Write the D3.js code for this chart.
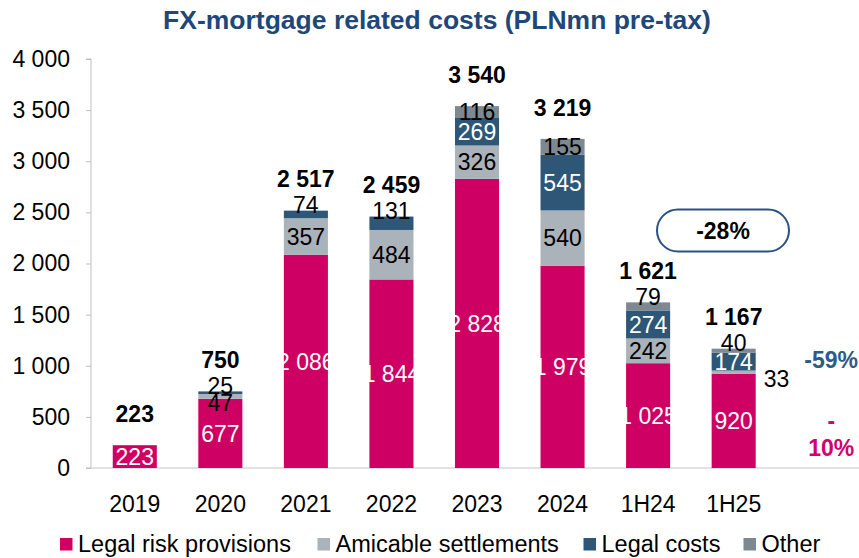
<!DOCTYPE html>
<html>
<head>
<meta charset="utf-8">
<script src="https://cdn.jsdelivr.net/npm/d3@7"></script>
<style>
  html, body { margin: 0; padding: 0; background: #fff; }
  svg { display: block; font-family: "Liberation Sans", Arial, sans-serif; }
</style>
</head>
<body>
<svg id="chart" width="859" height="558"></svg>
<script>
// ---- data ----
const categories = ["2019", "2020", "2021", "2022", "2023", "2024", "1H24", "1H25"];
const legalRisk   = [223, 677, 2086, 1844, 2828, 1979, 1025, 920];
const amicable    = [0, 47, 357, 484, 326, 540, 242, 33];
const legalCosts  = [0, 25, 74, 131, 269, 545, 274, 174];
const other       = [0, 0, 0, 0, 116, 155, 79, 40];
const totals      = [223, 750, 2517, 2459, 3540, 3219, 1621, 1167];
const yTicks      = [0, 500, 1000, 1500, 2000, 2500, 3000, 3500, 4000];
const seriesNames = ["Legal risk provisions", "Amicable settlements", "Legal costs", "Other"];
// label placement modes: c = centre, t = above bar, b = below segment, r = right of bar
const legalRiskLabel  = ["c", "c", "c", "c", "c", "c", "c", "c"];
const amicableLabel   = ["", "b", "c", "c", "c", "c", "c", "r"];
const legalCostsLabel = ["", "t", "t", "t", "c", "c", "c", "c"];
const otherLabel      = ["", "", "", "", "c", "c", "t", "t"];
const changeH = "-28%";
const changeLC = "-59%";
const changeLRP = ["-", "10%"];

const colors = ["#cf0063", "#aab2ba", "#2d5677", "#7d8891"];
const labelColors = ["#ffffff", "#000000", null, "#000000"];

const svg = d3.select("#chart");
const fmt = v => d3.format(",")(v).replace(/,/g, " ");

const x = d3.scaleBand()
  .domain(categories.concat([" "]))
  .range([92, 862])
  .paddingInner(0.485)
  .paddingOuter(0.2425);
const y = d3.scaleLinear().domain([0, 4000]).range([468, 59]);

// title
svg.append("text")
  .attr("x", 437).attr("y", 29)
  .attr("text-anchor", "middle")
  .attr("font-size", 26.5).attr("font-weight", "bold")
  .attr("fill", "#1f4778")
  .text("FX-mortgage related costs (PLNmn pre-tax)");

// y axis
const yAxis = svg.append("g").attr("transform", "translate(91,0)")
  .call(d3.axisLeft(y).tickValues(yTicks).tickSize(5).tickPadding(16).tickFormat(fmt));
yAxis.select(".domain").attr("stroke", "#bfbfbf").attr("d", `M-5,${y(4000)}H0V${y(0)}H-5`);
yAxis.selectAll(".tick line").attr("stroke", "#bfbfbf");
yAxis.selectAll(".tick text").attr("font-size", 23).attr("fill", "#000")
  .attr("font-family", "Liberation Sans, Arial, sans-serif");

// x axis
const xAxis = svg.append("g").attr("transform", `translate(0,${y(0)})`)
  .call(d3.axisBottom(x).tickSize(0).tickPadding(28));
xAxis.select(".domain").attr("stroke", "#d9d9d9").attr("stroke-width", 1.5)
  .attr("d", `M91,0H859`);
xAxis.selectAll(".tick text").attr("font-size", 23).attr("fill", "#000")
  .attr("font-family", "Liberation Sans, Arial, sans-serif");

// stacks
const seriesVals = [legalRisk, amicable, legalCosts, other];
const seriesModes = [legalRiskLabel, amicableLabel, legalCostsLabel, otherLabel];
const rows = categories.map((c, i) => ({
  cat: c, s0: legalRisk[i], s1: amicable[i], s2: legalCosts[i], s3: other[i]
}));
const stack = d3.stack().keys(["s0", "s1", "s2", "s3"])(rows);

const gBars = svg.append("g");
stack.forEach((layer, si) => {
  gBars.selectAll(null).data(layer.filter(d => d[1] > d[0])).enter()
    .append("rect")
    .attr("x", d => x(d.data.cat))
    .attr("width", x.bandwidth())
    .attr("y", d => y(d[1]))
    .attr("height", d => y(d[0]) - y(d[1]))
    .attr("fill", colors[si]);
});

// segment labels
const gLab = svg.append("g").attr("font-size", 23);
stack.forEach((layer, si) => {
  layer.forEach((d, i) => {
    const mode = seriesModes[si][i];
    if (!mode) return;
    const v = seriesVals[si][i];
    const top = y(d3.sum(seriesVals, s => s[i]));
    let cx = x(d.data.cat) + x.bandwidth() / 2;
    let cy = (y(d[0]) + y(d[1])) / 2;
    let anchor = "middle";
    let fill = labelColors[si];
    if (si === 2) fill = mode === "c" ? "#ffffff" : "#000000";
    if (mode === "t") cy = top - 6;
    if (mode === "b") cy = y(d[0]) + 4;
    if (mode === "r") { cx = x(d.data.cat) + x.bandwidth() + 8; cy = cy + 6; anchor = "start"; }
    gLab.append("text")
      .attr("x", cx).attr("y", cy).attr("dy", "0.36em")
      .attr("text-anchor", anchor)
      .attr("fill", fill)
      .text(fmt(v));
  });
});

// totals
svg.append("g").selectAll("text").data(categories).enter().append("text")
  .attr("x", c => x(c) + x.bandwidth() / 2)
  .attr("y", (c, i) => y(totals[i]) - 31.5)
  .attr("dy", "0.36em")
  .attr("text-anchor", "middle")
  .attr("font-size", 23).attr("font-weight", "bold").attr("fill", "#000")
  .text((c, i) => fmt(totals[i]));

// -28% callout
const pill = svg.append("g");
pill.append("rect")
  .attr("x", 657).attr("y", 209.5).attr("width", 132).attr("height", 42)
  .attr("rx", 21).attr("ry", 21)
  .attr("fill", "#fff").attr("stroke", "#2a5384").attr("stroke-width", 2);
pill.append("text")
  .attr("x", 723).attr("y", 231).attr("dy", "0.36em")
  .attr("text-anchor", "middle")
  .attr("font-size", 23).attr("font-weight", "bold").attr("fill", "#000")
  .text(changeH);

// right-side changes
const cxr = x(" ") + x.bandwidth() / 2 + 12;
svg.append("text")
  .attr("x", cxr).attr("y", 360).attr("dy", "0.36em")
  .attr("text-anchor", "middle")
  .attr("font-size", 23).attr("font-weight", "bold").attr("fill", "#2d5a86")
  .text(changeLC);
svg.append("g").selectAll("text").data(changeLRP).enter().append("text")
  .attr("x", cxr).attr("y", (d, i) => 421 + i * 27).attr("dy", "0.36em")
  .attr("text-anchor", "middle")
  .attr("font-size", 23).attr("font-weight", "bold").attr("fill", "#d4006a")
  .text(d => d);

// legend
const legendX = [60, 317.5, 583.5, 743.5];
const lg = svg.append("g");
seriesNames.forEach((n, i) => {
  lg.append("rect").attr("x", legendX[i]).attr("y", 538).attr("width", 12.5).attr("height", 12.5)
    .attr("fill", colors[i]);
  lg.append("text").attr("x", legendX[i] + 18).attr("y", 544).attr("dy", "0.36em")
    .attr("font-size", 23.5).attr("fill", "#000").text(n);
});
</script>
</body>
</html>
